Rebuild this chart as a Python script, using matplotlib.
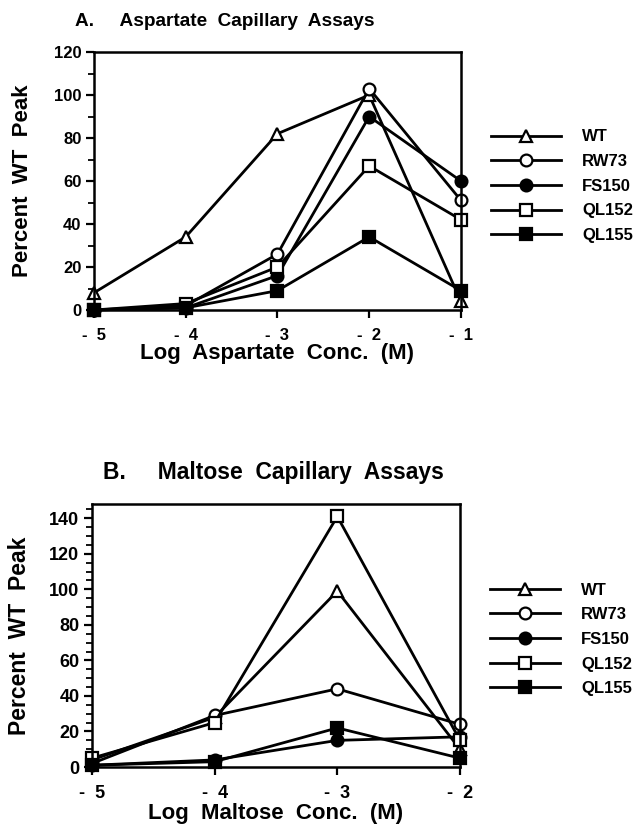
import matplotlib
matplotlib.use("Agg")
import matplotlib.pyplot as plt
from matplotlib.ticker import MultipleLocator

plt.rcParams['font.family'] = ['Liberation Sans', 'DejaVu Sans']
plt.rcParams['font.weight'] = 'bold'
plt.rcParams['axes.labelweight'] = 'bold'

strains = ["WT", "RW73", "FS150", "QL152", "QL155"]
markers = ["^", "o", "o", "s", "s"]
fills = ["white", "white", "black", "white", "black"]

# panel A: aspartate
asp_conc = [-5, -4, -3, -2, -1]
asp_wt = [8, 34, 82, 100, 4]
asp_rw73 = [0, 2, 26, 103, 51]
asp_fs150 = [0, 1, 16, 90, 60]
asp_ql152 = [0, 3, 20, 67, 42]
asp_ql155 = [0, 1, 9, 34, 9]

# panel B: maltose
mal_conc = [-5, -4, -3, -2]
mal_wt = [4, 28, 99, 10]
mal_rw73 = [2, 29, 44, 24]
mal_fs150 = [1, 4, 15, 17]
mal_ql152 = [5, 25, 141, 15]
mal_ql155 = [1, 3, 22, 5]

asp = [asp_wt, asp_rw73, asp_fs150, asp_ql152, asp_ql155]
mal = [mal_wt, mal_rw73, mal_fs150, mal_ql152, mal_ql155]

fig = plt.figure(figsize=(6.41, 8.26), dpi=100)
axA = fig.add_axes([0.1466, 0.6247, 0.5725, 0.3123])
axB = fig.add_axes([0.1435, 0.0714, 0.5741, 0.3184])


def draw(ax, x, series, ymax, ystep, yminor, xlabel, legend_y, fs, ylfs, ylpad, xlpad):
    for ys, m, fc, name in zip(series, markers, fills, strains):
        ax.plot(x, ys, color="black", lw=2.0, marker=m, ms=8.5 if m == "o" else 8,
                mfc=fc, mec="black", mew=1.6, clip_on=False, label=name)
    ax.set_xlim(x[0], x[-1])
    ax.set_ylim(0, ymax)
    ax.set_xticks(x)
    ax.set_xticklabels(["-  %d" % abs(v) for v in x])
    ax.yaxis.set_major_locator(MultipleLocator(ystep))
    ax.yaxis.set_minor_locator(MultipleLocator(yminor))
    ax.tick_params(axis="both", which="major", direction="out", length=6, width=1.6,
                   labelsize=fs)
    ax.tick_params(axis="y", which="minor", direction="out", length=4, width=1.3)
    ax.tick_params(axis="x", which="major", pad=7)
    ax.tick_params(axis="y", which="major", pad=3)
    for s in ax.spines.values():
        s.set_linewidth(1.8)
    ax.set_ylabel("Percent  WT  Peak", fontsize=ylfs, labelpad=ylpad)
    ax.set_xlabel(xlabel, fontsize=16, labelpad=xlpad)
    ax.legend(loc="center left", bbox_to_anchor=(1.04, legend_y), frameon=False,
              numpoints=1, handlelength=4.2, fontsize=12, labelspacing=0.58,
              handletextpad=1.3)


draw(axA, asp_conc, asp, 120, 20, 10, "Log  Aspartate  Conc.  (M)", 0.48, 12, 16, 15, 0)
draw(axB, mal_conc, mal, 148, 20, 5, "Log  Maltose  Conc.  (M)", 0.485, 13, 16.5, 13, 1)

fig.text(0.117, 0.974, "A.     Aspartate  Capillary  Assays", fontsize=13.7, va="center")
fig.text(0.160, 0.428, "B.     Maltose  Capillary  Assays", fontsize=16.5, va="center")

fig.savefig("out.png", dpi=100)
